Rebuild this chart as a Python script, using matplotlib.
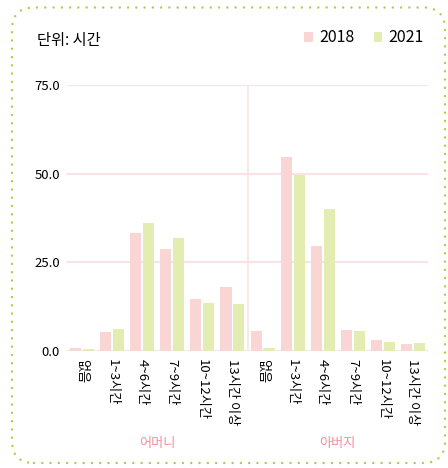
import matplotlib.pyplot as plt
from matplotlib.patches import FancyBboxPatch, Patch
import numpy as np

plt.rcParams['font.family'] = ['Noto Sans CJK KR', 'DejaVu Sans']

# 데이터
groups = ['어머니', '아버지']
categories = ['없음', '1~3시간', '4~6시간', '7~9시간', '10~12시간', '13시간 이상']
series_names = ['2018', '2021']
mother_2018 = [0.8, 5.3, 33.2, 28.7, 14.8, 18.0]
mother_2021 = [0.5, 6.1, 36.0, 31.8, 13.4, 13.2]
father_2018 = [5.5, 54.6, 29.5, 5.8, 3.0, 1.9]
father_2021 = [0.8, 49.5, 39.9, 5.5, 2.5, 2.2]
y_ticks = [0, 25, 50, 75]

c2018 = '#f9d6d4'
c2021 = '#e4edb1'
grid_c = '#fbe3e3'
group_c = '#f3909c'
border_c = '#b3cc4f'

v2018 = mother_2018 + father_2018
v2021 = mother_2021 + father_2021
labels = categories + categories
x = np.arange(len(labels))

fig = plt.figure(figsize=(4.48, 4.68), dpi=100)
ax = fig.add_axes([67 / 448, 117 / 468, 361 / 448, 266 / 468])

w = 0.37
off = 0.215
ax.bar(x - off, v2018, width=w, color=c2018, zorder=2)
ax.bar(x + off, v2021, width=w, color=c2021, zorder=2)

ax.set_xlim(-0.5, len(labels) - 0.5)
ax.set_ylim(0, 75)
ax.set_yticks(y_ticks)
ax.set_yticklabels([f'{t:.1f}' for t in y_ticks], fontsize=9.5)
ax.set_xticks(x)
ax.set_xticklabels(labels, rotation=-90, fontsize=9.5)
ax.tick_params(length=0)
ax.tick_params(axis='y', pad=5)
ax.tick_params(axis='x', pad=6)
for s in ax.spines.values():
    s.set_visible(False)
for t in y_ticks:
    ax.axhline(t, color=grid_c, lw=1.5, zorder=1)
ax.axvline(5.5, color=grid_c, lw=1.2, zorder=1)

# 그룹 라벨
for i, g in enumerate(groups):
    ax.text(2.5 + 6 * i, -26, g, ha='center', va='center', fontsize=9.5,
            color=group_c, transform=ax.transData, clip_on=False)

fig.text(37 / 448, 1 - 40 / 468, '단위: 시간', fontsize=11, va='center', ha='left')

handles = [Patch(facecolor=c2018, label=series_names[0]),
           Patch(facecolor=c2021, label=series_names[1])]
fig.legend(handles=handles, loc='center right', bbox_to_anchor=(432 / 448, 1 - 38 / 468),
           ncol=2, frameon=False, fontsize=11.5, handlelength=0.55, handleheight=0.55,
           handletextpad=0.4, columnspacing=1.2, borderpad=0)

# 점선 테두리
border = FancyBboxPatch((0.12, 0.05), 4.33, 4.555, boxstyle='round,pad=0,rounding_size=0.22',
                        transform=fig.dpi_scale_trans, fill=False, edgecolor=border_c,
                        lw=1.8, linestyle=(0, (0.01, 3.3)), capstyle='round')
fig.add_artist(border)

fig.savefig('out.png', dpi=100)
